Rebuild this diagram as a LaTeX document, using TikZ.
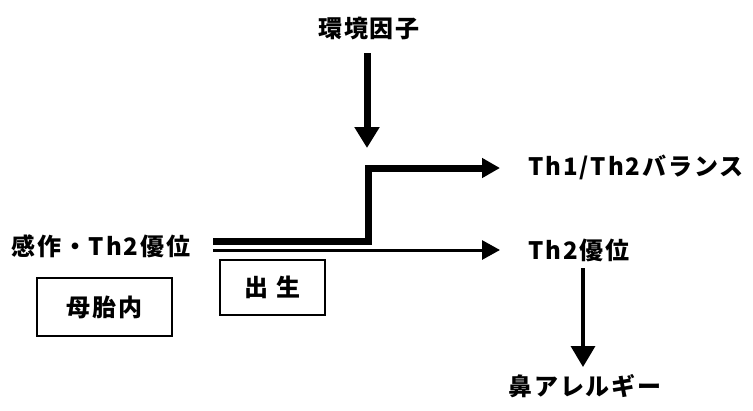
\documentclass[tikz,border=0pt]{standalone}
\usepackage{fontspec}
\newfontfamily\jp{Noto Sans CJK JP}[LetterSpace=8]
\usetikzlibrary{arrows.meta}
\tikzset{
  lbl/.style={font=\jp\bfseries\fontsize{24}{27}\selectfont, inner sep=0pt},
  boxed/.style={lbl, draw, line width=2pt},
  thickln/.style={line width=7pt},
  thinln/.style={line width=3pt},
  headR/.style={-{Triangle[length=18pt,width=19pt]}},
  headD/.style={-{Triangle[length=21pt,width=24pt]}},
}
\begin{document}
\begin{tikzpicture}[x=1pt,y=-1pt]
\useasboundingbox (0,0) rectangle (753,410);
\node[lbl] (env) at (369,28) {環境因子};
\node[lbl, anchor=west] (src) at (11,246) {感作・Th2優位};
\node[lbl, anchor=west] (bal) at (528,167) {Th1/Th2バランス};
\node[lbl, anchor=west] (th2) at (528,250) {Th2優位};
\node[lbl] (nasal) at (585,386) {鼻アレルギー};
\node[boxed, minimum width=135pt, minimum height=58pt] (womb) at (104.5,307) {母胎内};
\node[boxed, minimum width=105pt, minimum height=55pt] (birth) at (272.5,287.5) {出 生};
\coordinate (e1) at (367,53);
\coordinate (e2) at (367,148);
\coordinate (k0) at (213,241);
\coordinate (k1) at (368,241);
\coordinate (b1) at (500,168);
\coordinate (t0) at (213,250);
\coordinate (t1) at (500,250);
\coordinate (n1) at (583,268);
\coordinate (n2) at (583,367);
\draw[thickln, headD] (e1) -- (e2);
\draw[thickln, headR] (k0) -- (k1) |- (b1);
\draw[thinln, headR] (t0) -- (t1);
\draw[line width=3.5pt, headD] (n1) -- (n2);
\end{tikzpicture}
\end{document}
